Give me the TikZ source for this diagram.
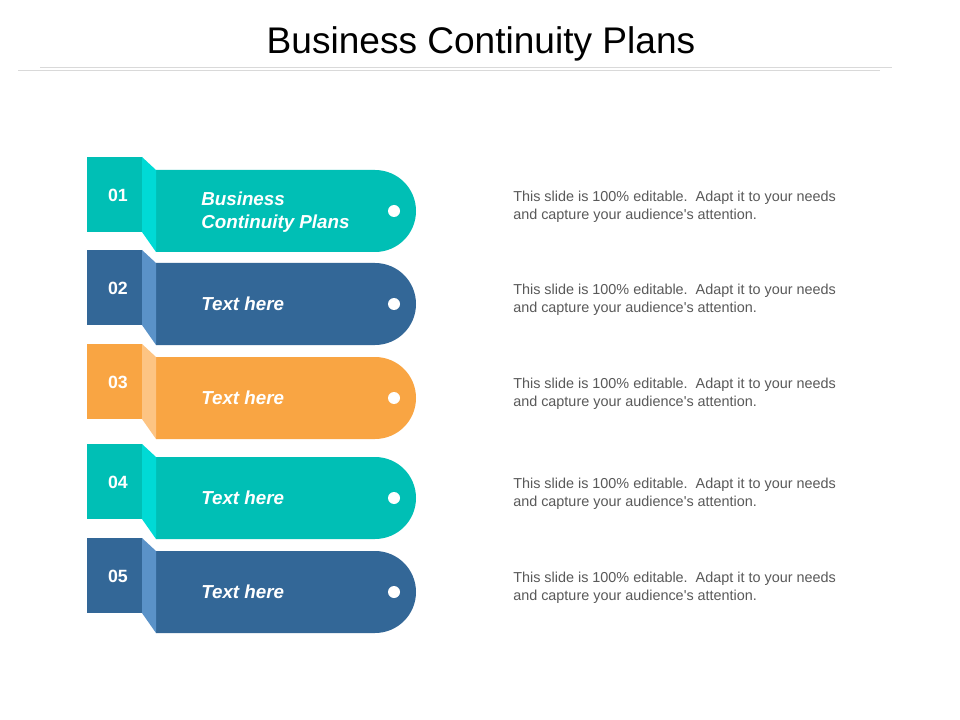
\documentclass[tikz,border=0pt]{standalone}
\usepackage{fontspec}
\setmainfont{Liberation Sans}
\definecolor{tealA}{HTML}{00BFB5}
\definecolor{tealB}{HTML}{00DAD5}
\definecolor{blueA}{HTML}{336797}
\definecolor{blueB}{HTML}{5A92C8}
\definecolor{orangeA}{HTML}{F9A543}
\definecolor{orangeB}{HTML}{FDC483}
\definecolor{bodygray}{HTML}{595959}
\definecolor{rulegray}{HTML}{D9D9D9}
\begin{document}
\begin{tikzpicture}[x=0.75pt,y=-0.75pt,
  numtext/.style={text=white,font=\fontsize{13.3pt}{16pt}\selectfont\bfseries,inner sep=0pt},
  bartext/.style={text=white,font=\fontsize{14.1pt}{17.25pt}\selectfont\bfseries\itshape,anchor=west,align=left,inner sep=0pt},
  bodytext/.style={text=bodygray,font=\fontsize{10.8pt}{13.5pt}\selectfont,anchor=west,align=left,inner sep=0pt},
  dotstyle/.style={circle,fill=white,minimum size=9pt,inner sep=0pt}]
\useasboundingbox (0,0) rectangle (960,720);
\fill[white] (0,0) rectangle (960,720);
% title
\node[font=\fontsize{27.8pt}{33pt}\selectfont,inner sep=0pt] (title) at (481,44) {Business Continuity Plans};
\draw[rulegray,line width=0.75pt] (40,68) -- (892,68);
\draw[rulegray,line width=0.75pt] (18,71) -- (880,71);
% items
\foreach \i/\t/\ca/\cb/\dy/\lab in {1/157/tealA/tealB/55.5/{Business\\Continuity Plans},2/250/blueA/blueB/54/{Text here},3/344/orangeA/orangeB/54/{Text here},4/444/tealA/tealB/54/{Text here},5/538/blueA/blueB/54/{Text here}}{
  \fill[\ca] (156,\t+13) -- (375,\t+13) arc[start angle=-90,end angle=90,radius=41] -- (156,\t+95) -- cycle;
  \fill[\cb] (142,\t) -- (156,\t+13) -- (156,\t+95) -- (142,\t+75) -- cycle;
  \fill[\ca] (87,\t) rectangle (142,\t+75);
  \node[numtext] (num\i) at (118,\t+38) {0\i};
  \node[bartext] (lab\i) at (201,\t+\dy) {\lab};
  \node[dotstyle] (dot\i) at (394,\t+54) {};
  \node[bodytext] (desc\i) at (513,\t+50) {This slide is 100\% editable.\ \ Adapt it to your needs\\and capture your audience\textquotesingle s attention.};
}
\end{tikzpicture}
\end{document}
